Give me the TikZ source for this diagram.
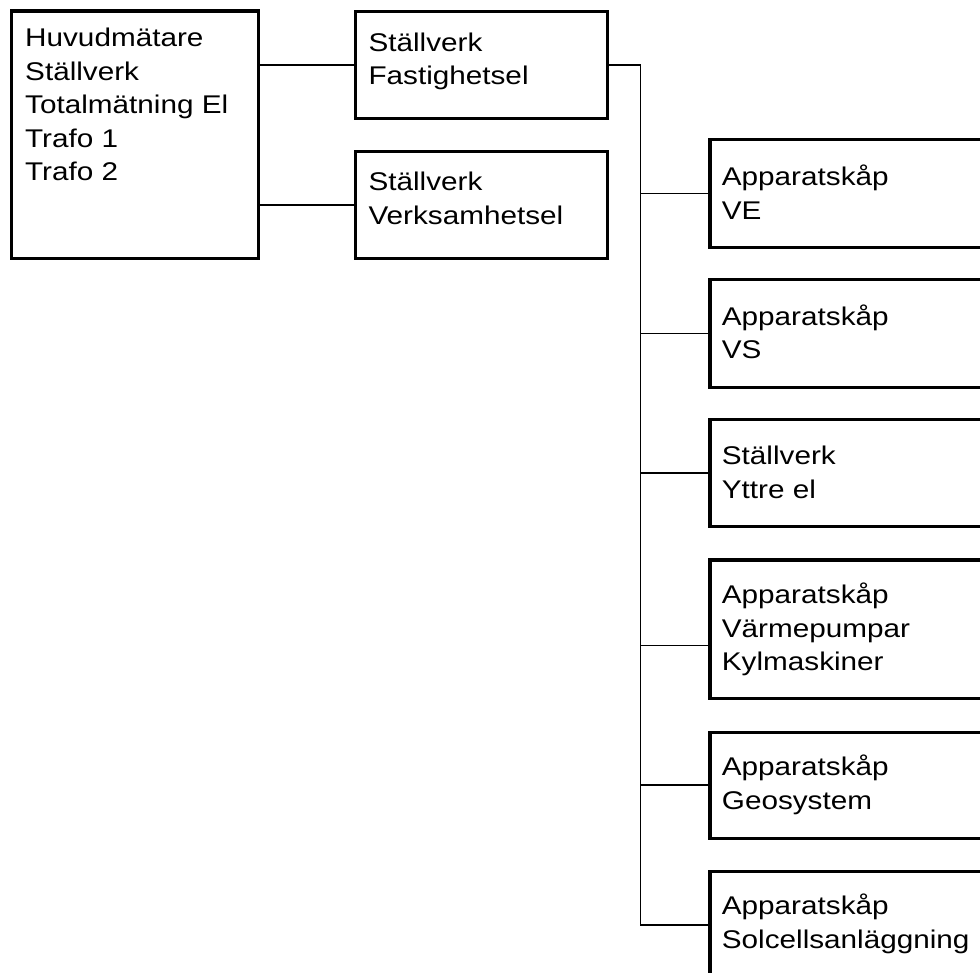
\documentclass[tikz,border=0pt]{standalone}
\usepackage{fontspec}
\setmainfont{Liberation Sans}[FakeStretch=1.16]
\begin{document}
\begin{tikzpicture}[x=1pt,y=-1pt,
  box/.style={draw, line width=3.2pt, inner sep=0pt, anchor=north west},
  txt/.style={anchor=base west, inner sep=0pt, align=left, font=\fontsize{25.6}{33.5}\selectfont},
  conn/.style={line width=1.7pt}]
\clip (0,0) rectangle (980,973);
% boxes
\node[box, minimum width=247.5pt, minimum height=247.5pt] (main) at (9.5,9.5) {};
\node[box, minimum width=252.5pt, minimum height=107pt] (b2) at (353.5,10) {};
\node[box, minimum width=252.5pt, minimum height=107pt] (b3) at (353.5,150) {};
\node[box, minimum width=300pt, minimum height=107.4pt] (ve) at (708.3,138.3) {};
\node[box, minimum width=300pt, minimum height=107.4pt] (vs) at (708.3,278.3) {};
\node[box, minimum width=300pt, minimum height=107pt] (ye) at (708.3,418) {};
\node[box, minimum width=300pt, minimum height=138.4pt] (vp) at (708.3,558.3) {};
\node[box, minimum width=300pt, minimum height=106pt] (geo) at (708.3,730.7) {};
\node[box, minimum width=300pt, minimum height=107pt] (sol) at (708.3,870) {};
% texts (anchored at the baseline of the last line)
\node[txt] (tmain) at (25,181) {Huvudmätare\\Ställverk\\Totalmätning El\\Trafo 1\\Trafo 2};
\node[txt] (tb2) at (368.3,85) {Ställverk\\Fastighetsel};
\node[txt] (tb3) at (368.3,224.5) {Ställverk\\Verksamhetsel};
\node[txt] (tve) at (721.7,219.3) {Apparatskåp\\VE};
\node[txt] (tvs) at (721.7,359) {Apparatskåp\\VS};
\node[txt] (tye) at (721.7,498.3) {Ställverk\\Yttre el};
\node[txt] (tvp) at (721.7,670.5) {Apparatskåp\\Värmepumpar\\Kylmaskiner};
\node[txt] (tgeo) at (721.7,809.3) {Apparatskåp\\Geosystem};
\node[txt] (tsol) at (721.7,948.3) {Apparatskåp\\Solcellsanläggning};
% connectors
\coordinate (tk) at (640.5,0);
\coordinate (vpin) at ([yshift=-16.5pt]vp.west);
\draw[conn] (main.east |- b2.west) -- (b2.west);
\draw[conn] (main.east |- b3.west) -- (b3.west);
\draw[conn] (b2.east) -| (tk |- sol.west) -- (sol.west);
\draw[conn] (tk |- ve.west) -- (ve.west);
\draw[conn] (tk |- vs.west) -- (vs.west);
\draw[conn] (tk |- ye.west) -- (ye.west);
\draw[conn] (tk |- vpin) -- (vpin);
\draw[conn] (tk |- geo.west) -- (geo.west);
\end{tikzpicture}
\end{document}
